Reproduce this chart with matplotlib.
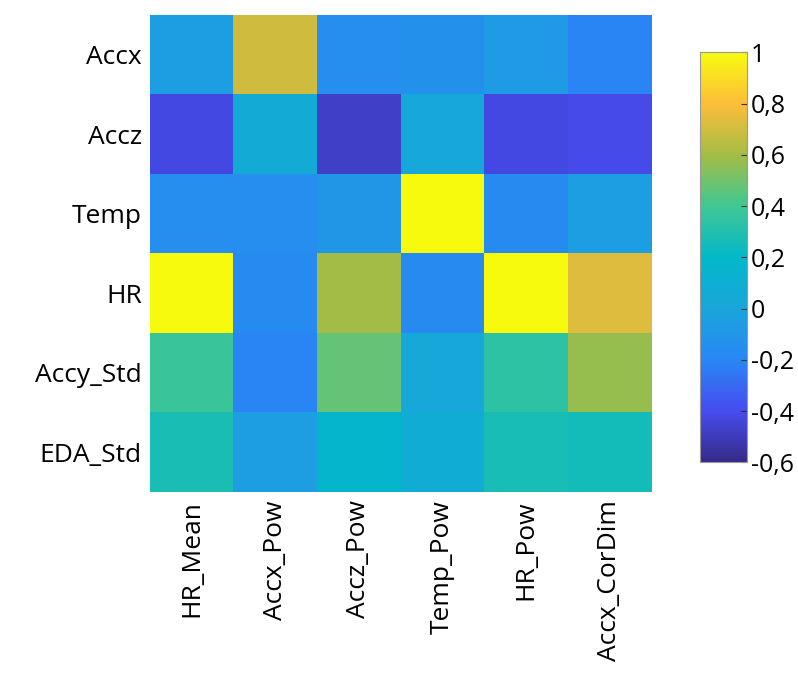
import numpy as np
import matplotlib
matplotlib.use('Agg')
import matplotlib.pyplot as plt
from matplotlib.colors import LinearSegmentedColormap

plt.rcParams['font.family'] = ['Open Sans', 'DejaVu Sans']

# Daten
rows = ['Accx', 'Accz', 'Temp', 'HR', 'Accy_Std', 'EDA_Std']
cols = ['HR_Mean', 'Accx_Pow', 'Accz_Pow', 'Temp_Pow', 'HR_Pow', 'Accx_CorDim']
r_accx = [-0.05, 0.70, -0.15, -0.13, -0.07, -0.20]
r_accz = [-0.42, 0.05, -0.47, 0.03, -0.42, -0.41]
r_temp = [-0.15, -0.15, -0.10, 1.00, -0.17, -0.05]
r_hr = [1.00, -0.17, 0.60, -0.17, 1.00, 0.73]
r_accy = [0.38, -0.20, 0.47, 0.03, 0.34, 0.57]
r_eda = [0.28, -0.05, 0.17, 0.08, 0.27, 0.26]
cbar_ticks = [-0.6, -0.4, -0.2, 0, 0.2, 0.4, 0.6, 0.8, 1]

M = np.array([r_accx, r_accz, r_temp, r_hr, r_accy, r_eda])

# parula-aehnliche Farbskala
parula = LinearSegmentedColormap.from_list('parula', [
    (0.000, (0.208, 0.166, 0.529)),
    (0.125, (0.275, 0.300, 0.940)),
    (0.250, (0.160, 0.530, 0.960)),
    (0.375, (0.100, 0.650, 0.860)),
    (0.500, (0.010, 0.720, 0.790)),
    (0.625, (0.250, 0.780, 0.580)),
    (0.750, (0.640, 0.740, 0.270)),
    (0.875, (0.990, 0.740, 0.230)),
    (1.000, (0.976, 0.983, 0.054)),
])

fig = plt.figure(figsize=(7.98, 6.89), dpi=100)
ax = fig.add_axes([0.188, 0.286, 0.628, 0.692])
im = ax.imshow(M, cmap=parula, vmin=-0.6, vmax=1.0, aspect='auto')
ax.set_xticks(range(len(cols)))
ax.set_xticklabels(cols, rotation=90, fontsize=19)
ax.set_yticks(range(len(rows)))
ax.set_yticklabels(rows, fontsize=19)
ax.tick_params(length=0, pad=6)
for s in ax.spines.values():
    s.set_visible(False)

cax = fig.add_axes([0.877, 0.329, 0.059, 0.595])
cb = fig.colorbar(im, cax=cax, ticks=cbar_ticks)
cb.ax.set_yticklabels([('%g' % t).replace('.', ',') for t in cbar_ticks], fontsize=18)
cb.ax.tick_params(direction='in', length=4, color='#333333', pad=3)
cb.outline.set_edgecolor('#999999')

fig.savefig('out.png', dpi=100)
